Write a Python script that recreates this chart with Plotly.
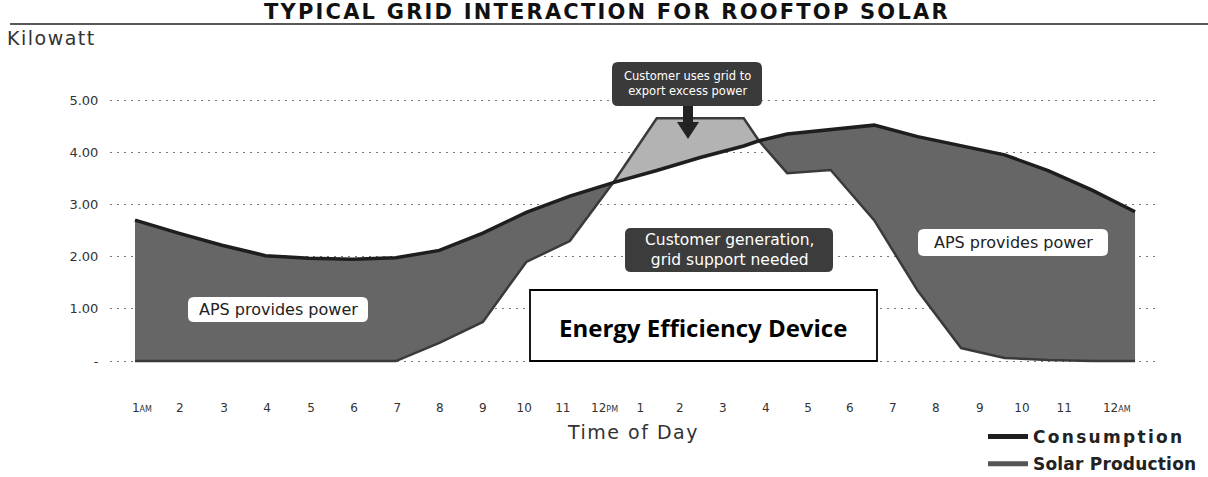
import plotly.graph_objects as go

# ---------------- data ----------------
hours = [1, 2, 3, 4, 5, 6, 7, 8, 9, 10, 11, 12, 13, 14, 15, 15.35, 16, 17, 18, 19, 20, 21, 22, 23, 24]
consumption = [2.70, 2.45, 2.22, 2.02, 1.97, 1.95, 1.98, 2.12, 2.45, 2.85, 3.16, 3.42, 3.65, 3.90, 4.12,
               4.22, 4.35, 4.44, 4.52, 4.30, 4.12, 3.95, 3.65, 3.28, 2.86]
solar = [0, 0, 0, 0, 0, 0, 0, 0.35, 0.75, 1.90, 2.30, 3.42, 4.65, 4.65, 4.65,
         4.22, 3.60, 3.66, 2.70, 1.35, 0.25, 0.06, 0.02, 0, 0]
export_first, export_last = 11, 15   # indices where solar >= consumption

x_tick_pos = [1.16, 2.03, 3.05, 4.04, 5.05, 6.04, 7.03, 8.01, 9.0, 9.95, 10.84, 11.8,
              12.62, 13.53, 14.52, 15.51, 16.48, 17.44, 18.43, 19.42, 20.43, 21.4, 22.37, 23.58]
small = "<span style='font-size:8px'>%s</span>"
x_tick_text = ["1" + small % "AM", "2", "3", "4", "5", "6", "7", "8", "9", "10", "11",
               "12" + small % "PM", "1", "2", "3", "4", "5", "6", "7", "8", "9", "10", "11",
               "12" + small % "AM"]
y_tick_vals = [0, 1, 2, 3, 4, 5]
y_tick_text = ["-", "1.00", "2.00", "3.00", "4.00", "5.00"]

# ---------------- layout helpers (pixel -> paper) ----------------
W, H = 1208, 477
ML, MR, MT, MB = 110, 48, 74, 106
PW, PH = W - ML - MR, H - MT - MB
def px(x):
    return (x - ML) / PW
def py(y):
    return (H - MB - y) / PH

FONT = "DejaVu Sans"
DARK = "#666666"
LIGHT = "#b3b3b3"

def spaced(t, s):
    return f"<span style='letter-spacing:{s}px'>{t}</span>"

fig = go.Figure()

# dark area between solar and consumption
fig.add_trace(go.Scatter(x=hours, y=solar, mode="lines", line=dict(width=0), showlegend=False, hoverinfo="skip"))
fig.add_trace(go.Scatter(x=hours, y=consumption, mode="lines", line=dict(width=0), fill="tonexty",
                         fillcolor=DARK, showlegend=False, hoverinfo="skip"))
# light export area (solar above consumption)
sl = slice(export_first, export_last + 1)
fig.add_trace(go.Scatter(x=hours[sl], y=consumption[sl], mode="lines", line=dict(width=0),
                         showlegend=False, hoverinfo="skip"))
fig.add_trace(go.Scatter(x=hours[sl], y=solar[sl], mode="lines", line=dict(width=0), fill="tonexty",
                         fillcolor=LIGHT, showlegend=False, hoverinfo="skip"))
# lines
fig.add_trace(go.Scatter(x=hours, y=solar, mode="lines", line=dict(color="#3a3a3a", width=2.5),
                         showlegend=False))
fig.add_trace(go.Scatter(x=hours, y=consumption, mode="lines", line=dict(color="#1e1e1e", width=3.5),
                         showlegend=False))
# legend entries
fig.add_trace(go.Scatter(x=[None], y=[None], mode="lines", line=dict(color="#1e1e1e", width=5),
                         name=spaced("Consumption", 2.3), legendgroup="a"))
fig.add_trace(go.Scatter(x=[None], y=[None], mode="lines", line=dict(color="#555555", width=5),
                         name=spaced("Solar Production", 0.2), legendgroup="b"))

shapes = []
annotations = []

# title rule
shapes.append(dict(type="line", xref="paper", yref="paper", x0=px(10), x1=px(1208), y0=py(24), y1=py(24),
                   line=dict(color="#222", width=1.5)))

def rr_path(x0, y0, x1, y1, r):
    P = lambda x, y: f"{px(x):.5f},{py(y):.5f}"
    return (f"M{P(x0 + r, y0)} L{P(x1 - r, y0)} Q{P(x1, y0)} {P(x1, y0 + r)} "
            f"L{P(x1, y1 - r)} Q{P(x1, y1)} {P(x1 - r, y1)} L{P(x0 + r, y1)} "
            f"Q{P(x0, y1)} {P(x0, y1 - r)} L{P(x0, y0 + r)} Q{P(x0, y0)} {P(x0 + r, y0)} Z")

def box(x0, y0, x1, y1, fill, text, color, size, r=6):
    shapes.append(dict(type="path", xref="paper", yref="paper", path=rr_path(x0, y0, x1, y1, r),
                       fillcolor=fill, line=dict(width=0), layer="above"))
    annotations.append(dict(xref="paper", yref="paper", x=px((x0 + x1) / 2), y=py((y0 + y1) / 2),
                            text=text, showarrow=False, font=dict(family=FONT, size=size, color=color),
                            xanchor="center", yanchor="middle"))

box(612, 62, 762, 106, "#3a3a3a", "Customer uses grid to<br>export excess power", "white", 11.5)
# arrow
shapes.append(dict(type="rect", xref="paper", yref="paper", x0=px(683), x1=px(693), y0=py(106), y1=py(123),
                   fillcolor="#222", line=dict(width=0)))
shapes.append(dict(type="path", xref="paper", yref="paper",
                   path=f"M{px(677)},{py(122)} L{px(699)},{py(122)} L{px(688)},{py(139)} Z",
                   fillcolor="#222", line=dict(width=0)))

box(625, 228, 833, 272, "#3c3c3c", "Customer generation,<br>grid support needed", "white", 15.5)
box(188, 297, 368, 322, "white", "APS provides power", "#222", 16)
box(918, 229, 1108, 256, "white", "APS provides power", "#222", 16)

# Energy Efficiency Device box
shapes.append(dict(type="rect", xref="paper", yref="paper", x0=px(530), x1=px(877), y0=py(361), y1=py(290),
                   fillcolor="white", line=dict(color="black", width=1.8), layer="above"))
annotations.append(dict(xref="paper", yref="paper", x=px(703), y=py(327), yanchor="middle",
                        text="<b>Energy Efficiency Device</b>",
                        showarrow=False, font=dict(family="Open Sans", size=24, color="black")))

# title & labels
annotations.append(dict(xref="paper", yref="paper", x=px(607), y=py(12), yanchor="middle",
                        text="<b>" + spaced("TYPICAL GRID INTERACTION FOR ROOFTOP SOLAR", 2.2) + "</b>",
                        showarrow=False, font=dict(family=FONT, size=21, color="#111")))
annotations.append(dict(xref="paper", yref="paper", x=px(5), y=py(38), xanchor="left", yanchor="middle",
                        text=spaced("Kilowatt", 1.5), showarrow=False,
                        font=dict(family=FONT, size=19, color="#333")))
annotations.append(dict(xref="paper", yref="paper", x=px(633), y=py(432), yanchor="middle",
                        text=spaced("Time of Day", 1.5), showarrow=False,
                        font=dict(family=FONT, size=19, color="#333")))

fig.update_layout(
    width=W, height=H, margin=dict(l=ML, r=MR, t=MT, b=MB, autoexpand=False),
    paper_bgcolor="white", plot_bgcolor="white",
    shapes=shapes, annotations=annotations,
    xaxis=dict(range=[0.425, 0.425 + PW / 43.48], tickvals=x_tick_pos, ticktext=x_tick_text,
               showgrid=False, zeroline=False, showline=False, ticks="outside", ticklen=26,
               tickcolor="rgba(0,0,0,0)", tickfont=dict(family=FONT, size=12, color="#333")),
    yaxis=dict(range=[-0.19, -0.19 + PH / 52.2], tickvals=y_tick_vals, ticktext=y_tick_text,
               showgrid=True, gridcolor="#7a7a7a", gridwidth=1.3, griddash="2px,5px",
               zeroline=False, showline=False, ticks="outside", ticklen=8,
               tickcolor="rgba(0,0,0,0)", tickfont=dict(family=FONT, size=13, color="#333")),
    legend=dict(x=px(983), y=py(419), xanchor="left", yanchor="top", traceorder="grouped",
                tracegroupgap=2, font=dict(family=FONT, size=17, color="#222", weight="bold"),
                bgcolor="rgba(0,0,0,0)", itemwidth=40),
    showlegend=True,
)

fig.write_html("out.html", config={"displayModeBar": False},
               post_script="document.body.style.margin='0';")
